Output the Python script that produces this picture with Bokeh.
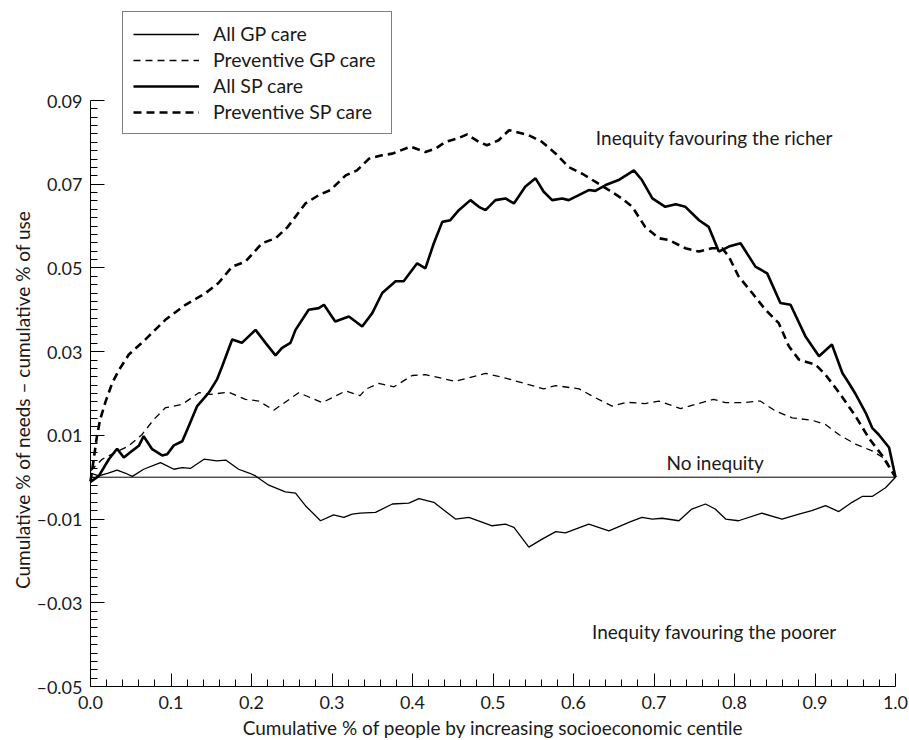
import math
from bokeh.plotting import figure
from bokeh.models import Range1d, FixedTicker, Legend, LegendItem, Label
from bokeh.embed import file_html
from bokeh.resources import INLINE

FONT = "Lato"

# ---------------- data ----------------
all_gp_x = [0, 0.0104, 0.022, 0.033, 0.043, 0.052, 0.066, 0.087, 0.1035, 0.114, 0.124,
            0.141, 0.157, 0.168, 0.184, 0.197, 0.205, 0.2215, 0.242, 0.2547, 0.267, 0.2857,
            0.302, 0.3147, 0.325, 0.335, 0.354, 0.375, 0.3954, 0.408, 0.4265, 0.4534, 0.47,
            0.499, 0.5155, 0.526, 0.5445, 0.561, 0.578, 0.59, 0.619, 0.644, 0.671, 0.685,
            0.698, 0.71, 0.731, 0.747, 0.764, 0.776, 0.789, 0.805, 0.834, 0.859, 0.88,
            0.896, 0.913, 0.9296, 0.946, 0.9586, 0.971, 0.9876, 1.0]
all_gp_y = [0.0010, 0.0003, 0.0010, 0.0017, 0.0010, 0.0002, 0.0019, 0.0035, 0.0019, 0.0023,
            0.0021, 0.0043, 0.0039, 0.0041, 0.0019, 0.0010, 0.0003, -0.0019, -0.0035, -0.0038,
            -0.0068, -0.0104, -0.0090, -0.0096, -0.0088, -0.0086, -0.0084, -0.0064, -0.0062,
            -0.0051, -0.0060, -0.0100, -0.0096, -0.0116, -0.0112, -0.0120, -0.0167, -0.0148,
            -0.0130, -0.0133, -0.0112, -0.0128, -0.0106, -0.0096, -0.0100, -0.0098, -0.0104,
            -0.0076, -0.0064, -0.0076, -0.0100, -0.0104, -0.0086, -0.0100, -0.0088, -0.0080,
            -0.0068, -0.0082, -0.0060, -0.0046, -0.0046, -0.0025, 0.0]

prev_gp_x = [0, 0.0145, 0.035, 0.0476, 0.064, 0.0787, 0.093, 0.114, 0.1346, 0.149, 0.172,
             0.1925, 0.209, 0.2277, 0.2587, 0.2878, 0.3168, 0.335, 0.3416, 0.358, 0.377,
             0.3996, 0.416, 0.4534, 0.4907, 0.5155, 0.5445, 0.563, 0.578, 0.607, 0.627, 0.648,
             0.666, 0.689, 0.706, 0.733, 0.7516, 0.774, 0.789, 0.8095, 0.832, 0.851, 0.8716,
             0.8965, 0.913, 0.9296, 0.9503, 0.971, 0.9876, 1.0]
prev_gp_y = [0.0015, 0.0043, 0.0063, 0.0075, 0.0102, 0.0138, 0.0166, 0.0174, 0.0202, 0.0198,
             0.0203, 0.0186, 0.0182, 0.0160, 0.0202, 0.0178, 0.0206, 0.0195, 0.0210, 0.0224,
             0.0216, 0.0243, 0.0245, 0.0229, 0.0248, 0.0237, 0.0221, 0.0211, 0.0219, 0.0211,
             0.0190, 0.0170, 0.0179, 0.0176, 0.0182, 0.0164, 0.0174, 0.0186, 0.0178, 0.0178,
             0.0182, 0.0158, 0.0142, 0.0136, 0.0126, 0.0102, 0.0079, 0.0063, 0.0043, 0.0]

all_sp_x = [0, 0.0104, 0.0228, 0.033, 0.0414, 0.0518, 0.06, 0.066, 0.0766, 0.089, 0.0953,
            0.1035, 0.114, 0.122, 0.1325, 0.147, 0.157, 0.1636, 0.176, 0.188, 0.205, 0.2174,
            0.2298, 0.238, 0.2484, 0.2547, 0.271, 0.2836, 0.29, 0.304, 0.321, 0.3375, 0.35,
            0.3624, 0.379, 0.389, 0.4058, 0.416, 0.4265, 0.437, 0.447, 0.4575, 0.472, 0.4824,
            0.4907, 0.503, 0.5155, 0.526, 0.540, 0.5528, 0.563, 0.5735, 0.586, 0.594, 0.6066,
            0.619, 0.627, 0.64, 0.656, 0.675, 0.685, 0.698, 0.714, 0.727, 0.739, 0.756, 0.768,
            0.7805, 0.793, 0.8075, 0.826, 0.8406, 0.857, 0.8696, 0.888, 0.905, 0.921, 0.934,
            0.942, 0.950, 0.963, 0.971, 0.979, 0.992, 1.0]
all_sp_y = [-0.0011, 0.0003, 0.0043, 0.0068, 0.0047, 0.0063, 0.0075, 0.0098, 0.0067, 0.0052,
            0.0055, 0.0076, 0.0086, 0.0122, 0.0170, 0.0202, 0.0233, 0.0265, 0.0329, 0.0321,
            0.0352, 0.0321, 0.0291, 0.0309, 0.0321, 0.0352, 0.0400, 0.0404, 0.0412, 0.0372,
            0.0384, 0.0360, 0.0392, 0.0440, 0.0468, 0.0468, 0.0511, 0.0499, 0.0559, 0.0610,
            0.0614, 0.0638, 0.0662, 0.0646, 0.0638, 0.0662, 0.0666, 0.0654, 0.0694, 0.0714,
            0.0682, 0.0662, 0.0666, 0.0662, 0.0674, 0.0686, 0.0684, 0.0698, 0.0710, 0.0733,
            0.0710, 0.0666, 0.0646, 0.0652, 0.0646, 0.0614, 0.0598, 0.0539, 0.0551, 0.0559,
            0.0503, 0.0487, 0.0416, 0.0412, 0.0337, 0.0289, 0.0317, 0.0249, 0.0225, 0.0200,
            0.0154, 0.0118, 0.0102, 0.0071, 0.0]

prev_sp_x = [0, 0.004, 0.008, 0.012, 0.0186, 0.027, 0.035, 0.0476, 0.066, 0.093, 0.118, 0.143,
             0.159, 0.176, 0.1925, 0.213, 0.230, 0.245, 0.267, 0.2836, 0.298, 0.317, 0.331,
             0.346, 0.362, 0.375, 0.3975, 0.416, 0.4286, 0.441, 0.4555, 0.468, 0.4824, 0.4925,
             0.507, 0.520, 0.5445, 0.561, 0.578, 0.594, 0.611, 0.627, 0.644, 0.660, 0.673,
             0.689, 0.706, 0.718, 0.739, 0.756, 0.772, 0.7847, 0.793, 0.805, 0.822, 0.8385,
             0.855, 0.8675, 0.880, 0.9006, 0.913, 0.930, 0.950, 0.967, 0.983, 1.0]
prev_sp_y = [-0.0010, 0.0043, 0.0098, 0.0138, 0.0180, 0.0225, 0.0255, 0.0293, 0.0325, 0.0376,
             0.0412, 0.0440, 0.0464, 0.0503, 0.0515, 0.0559, 0.0571, 0.0598, 0.0654, 0.0674,
             0.0686, 0.0721, 0.0733, 0.0761, 0.0769, 0.0773, 0.0790, 0.0777, 0.0785, 0.0801,
             0.0809, 0.0819, 0.0801, 0.0793, 0.0805, 0.0829, 0.0817, 0.0801, 0.0773, 0.0741,
             0.0725, 0.0706, 0.0686, 0.0666, 0.0646, 0.0598, 0.0571, 0.0567, 0.0547, 0.0539,
             0.0547, 0.0547, 0.0527, 0.0480, 0.0440, 0.0400, 0.0368, 0.0313, 0.0281, 0.0269,
             0.0245, 0.0202, 0.0147, 0.0093, 0.0053, 0.0]

series_labels = ["All GP care", "Preventive GP care", "All SP care", "Preventive SP care"]

x_ticks = [0.0, 0.1, 0.2, 0.3, 0.4, 0.5, 0.6, 0.7, 0.8, 0.9, 1.0]
x_tick_labels = ["0.0", "0.1", "0.2", "0.3", "0.4", "0.5", "0.6", "0.7", "0.8", "0.9", "1.0"]
y_ticks = [-0.05, -0.03, -0.01, 0.01, 0.03, 0.05, 0.07, 0.09]
y_tick_labels = ["\u20130.05", "\u20130.03", "\u20130.01", "0.01", "0.03", "0.05", "0.07", "0.09"]

x_title = "Cumulative % of people by increasing socioeconomic centile"
y_title = "Cumulative % of needs \u2013 cumulative % of use"
note_rich = "Inequity favouring the richer"
note_none = "No inequity"
note_poor = "Inequity favouring the poorer"

# ---------------- layout: the frame fills the whole canvas ----------------
W, H = 909, 740
AX_L, AX_R = 90, 895      # canvas px of x = 0 and x = 1
AX_T, AX_B = 100, 686     # canvas px of y = 0.09 and y = -0.05
x_ppu = (AX_R - AX_L) / 1.0
y_ppu = (AX_B - AX_T) / 0.14
x_start = 0.0 - AX_L / x_ppu
x_end = 1.0 + (W - AX_R) / x_ppu
y_end = 0.09 + AX_T / y_ppu
y_start = -0.05 - (H - AX_B) / y_ppu

p = figure(width=W, height=H, title=None,
           x_range=Range1d(x_start, x_end), y_range=Range1d(y_start, y_end),
           output_backend="svg", toolbar_location=None,
           min_border=0, min_border_left=0, min_border_right=0,
           min_border_top=0, min_border_bottom=0)
p.outline_line_color = None
p.xgrid.visible = False
p.ygrid.visible = False
p.background_fill_color = "white"
p.border_fill_color = "white"

x_minor = [round(i * 0.02, 4) for i in range(51) if i % 5 != 0]
y_minor = [round(-0.05 + i * 0.002, 4) for i in range(71) if i % 10 != 0]

for ax, ticks, labels, minor, major_in in (
        (p.xaxis[0], x_ticks, x_tick_labels, x_minor, 13),
        (p.yaxis[0], y_ticks, y_tick_labels, y_minor, 14)):
    ax.ticker = FixedTicker(ticks=ticks, minor_ticks=minor)
    ax.major_label_overrides = {t: l for t, l in zip(ticks, labels)}
    ax.major_tick_in = major_in
    ax.major_tick_out = 0
    ax.minor_tick_in = 7
    ax.minor_tick_out = 0
    ax.axis_line_color = "black"
    ax.axis_line_width = 1
    ax.major_tick_line_color = "black"
    ax.minor_tick_line_color = "black"
    ax.major_label_text_font = FONT
    ax.major_label_text_font_size = "18px"
    ax.major_label_text_color = "#1a1a1a"

p.xaxis.fixed_location = -0.05
p.yaxis.fixed_location = 0.0
p.xaxis.bounds = (0, 1)
p.yaxis.bounds = (-0.05, 0.09)
p.xaxis.major_label_standoff = 9
p.yaxis.major_label_standoff = 8

# zero reference line over the x extent of the axis
p.segment(x0=x_ticks[0], y0=0, x1=x_ticks[-1], y1=0, line_color="black", line_width=1)

r1 = p.line(all_gp_x, all_gp_y, line_color="black", line_width=1.3)
r2 = p.line(prev_gp_x, prev_gp_y, line_color="black", line_width=1.3, line_dash="7 5")
r3 = p.line(all_sp_x, all_sp_y, line_color="black", line_width=2.6)
r4 = p.line(prev_sp_x, prev_sp_y, line_color="black", line_width=2.6, line_dash="8 5")

legend = Legend(
    items=[LegendItem(label=lab, renderers=[r]) for lab, r in zip(series_labels, [r1, r2, r3, r4])],
    location=(122, H - 134),
    border_line_color="black", border_line_width=1,
    background_fill_color="white", background_fill_alpha=1.0,
    label_text_font=FONT, label_text_font_size="19.5px", label_text_color="#1a1a1a",
    glyph_width=66, glyph_height=20, label_height=20, label_width=168, label_standoff=14,
    padding=10, spacing=3, margin=0)
p.add_layout(legend, "center")

text_style = dict(text_font=FONT, text_font_size="19px", text_color="#1a1a1a", text_align="center")
lift = 5.5 / y_ppu
p.add_layout(Label(x=0.775, y=0.0798 + lift, text=note_rich, text_baseline="alphabetic", **text_style))
p.add_layout(Label(x=0.776, y=0.0023 + lift, text=note_none, text_baseline="alphabetic", **text_style))
p.add_layout(Label(x=0.775, y=-0.0382 + lift, text=note_poor, text_baseline="alphabetic", **text_style))

# axis titles (inside the full-canvas frame)
x_title_y = -0.05 - 41 / y_ppu
y_title_x = 0.0 - 68 / x_ppu
p.add_layout(Label(x=0.5, y=x_title_y, text=x_title, text_baseline="middle", **text_style))
p.add_layout(Label(x=y_title_x, y=0.0185, text=y_title, angle=math.pi / 2,
                   text_baseline="middle", **text_style))

open("out.html", "w").write(file_html(p, INLINE))
